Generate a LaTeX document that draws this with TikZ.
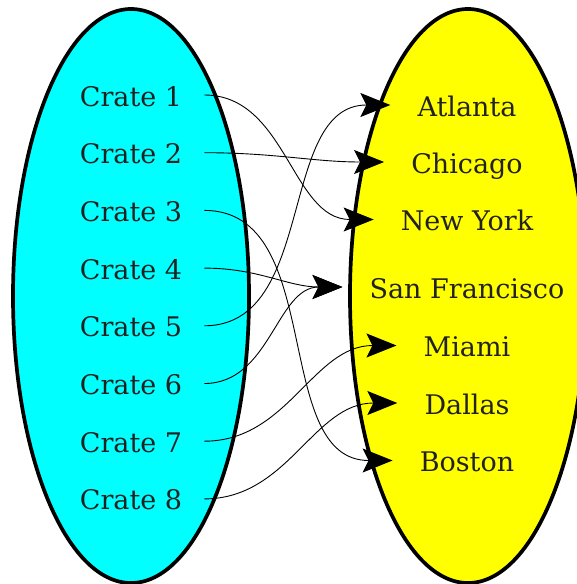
\documentclass[tikz,border=0pt]{standalone}
\usepackage{fontspec}
\setmainfont{DejaVu Serif}
\usetikzlibrary{positioning,arrows.meta,shapes.geometric}
\definecolor{cratefill}{RGB}{0,255,255}
\definecolor{cityfill}{RGB}{255,255,0}
\definecolor{labeltext}{RGB}{34,34,34}
\tikzset{
  setbox/.style ={draw, ellipse, line width=3.7pt, minimum width=236pt, minimum height=574pt, inner sep=0pt},
  crate/.style  ={font=\fontsize{27pt}{32pt}\selectfont, text=labeltext, text height=22pt, text depth=0pt, inner xsep=22pt, inner ysep=0pt},
  city/.style   ={font=\fontsize{27pt}{32pt}\selectfont, text=labeltext, text height=22pt, text depth=0pt, inner xsep=27pt, inner ysep=0pt},
  link/.style   ={-{Stealth[length=30pt,width=24pt,inset=6pt]}, line width=0.9pt},
}
\begin{document}
\begin{tikzpicture}[x=1pt,y=-1pt]
  \useasboundingbox (0,0) rectangle (577,584);
  \node[setbox, fill=cratefill] (crates) at (131,296) {};
  \node[setbox, fill=cityfill]  (cities) at (468,296) {};

  \foreach \i in {1,...,8} {
    \node[crate] (c\i) at (131, {95+57.7*(\i-1)}) {Crate \i};
  }

  \node[city] (atl) at (467,105)   {Atlanta};
  \node[city] (chi) at (467,162)   {Chicago};
  \node[city] (ny)  at (467,219.5) {New York};
  \node[city] (sf)  at (467,287)   {San Francisco};
  \node[city] (mia) at (467,345.5) {Miami};
  \node[city] (dal) at (467,403)   {Dallas};
  \node[city] (bos) at (467,460.5) {Boston};

  \foreach \a/\b in {1/ny,2/chi,3/bos,4/sf,5/atl,6/sf,7/mia,8/dal} {
    \draw[link] (c\a.east) to[out=0,in=180] (\b.west);
  }
\end{tikzpicture}
\end{document}
